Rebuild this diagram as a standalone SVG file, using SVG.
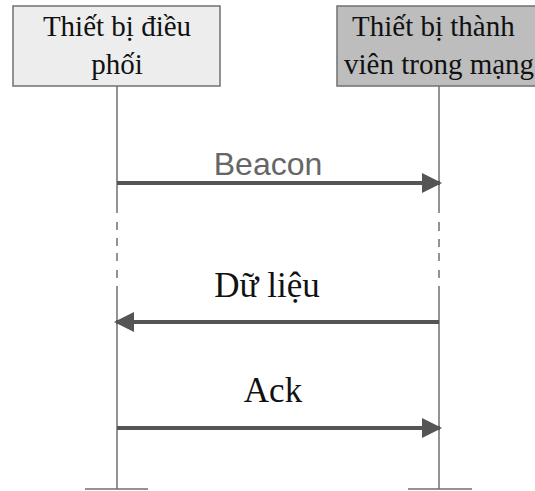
<svg xmlns="http://www.w3.org/2000/svg" width="535" height="491" viewBox="0 0 535 491">
<defs>
<style>
.box1{fill:#ededed;stroke:#707070;stroke-width:1.5}
.box2{fill:#bdbdbd;stroke:#707070;stroke-width:1.5}
.hdr{font-family:"Liberation Serif","DejaVu Serif",serif;font-size:29px;fill:#111}
.life{stroke:#707070;stroke-width:1.5;fill:none}
.msg{stroke:#555;stroke-width:4;fill:none}
.lbl{font-family:"Liberation Serif","DejaVu Serif",serif;font-size:35px;fill:#111;text-anchor:middle}
.lbls{font-family:"Liberation Sans","DejaVu Sans",sans-serif;font-size:32px;fill:#666;text-anchor:middle}
</style>
<marker id="ah" markerUnits="userSpaceOnUse" markerWidth="20" markerHeight="22" refX="18" refY="11" orient="auto">
<path d="M0,1 L20,11 L0,21 Z" fill="#555"/>
</marker>
</defs>
<g id="coordinator">
<rect class="box1" x="13" y="6" width="207" height="80"/>
<text class="hdr" x="117" y="36" text-anchor="middle">Thiết bị điều</text>
<text class="hdr" x="117" y="74" text-anchor="middle">phối</text>
</g>
<g id="member">
<rect class="box2" x="337" y="6" width="205" height="80"/>
<text class="hdr" x="352" y="36">Thiết bị thành</text>
<text class="hdr" x="344" y="74">viên trong mạng</text>
</g>
<g id="lifelines">
<path class="life" d="M117,86 V213 M117,222 V230 M117,238 V246 M117,253 V261 M117,270 V278 M117,286 V489"/>
<path class="life" d="M439,86 V213 M439,222 V231 M439,239 V247 M439,253 V261 M439,270 V278 M439,286 V489"/>
<path class="life" d="M85,489 H148 M408,489 H472"/>
</g>
<g id="connectors">
<line class="msg" x1="117" y1="183" x2="440" y2="183" marker-end="url(#ah)"/>
<line class="msg" x1="439" y1="322" x2="116" y2="322" marker-end="url(#ah)"/>
<line class="msg" x1="117" y1="428" x2="440" y2="428" marker-end="url(#ah)"/>
</g>
<g id="labels">
<text class="lbls" x="268" y="175">Beacon</text>
<text class="lbl" x="267" y="297">Dữ liệu</text>
<text class="lbl" x="273" y="402">Ack</text>
</g>
</svg>
